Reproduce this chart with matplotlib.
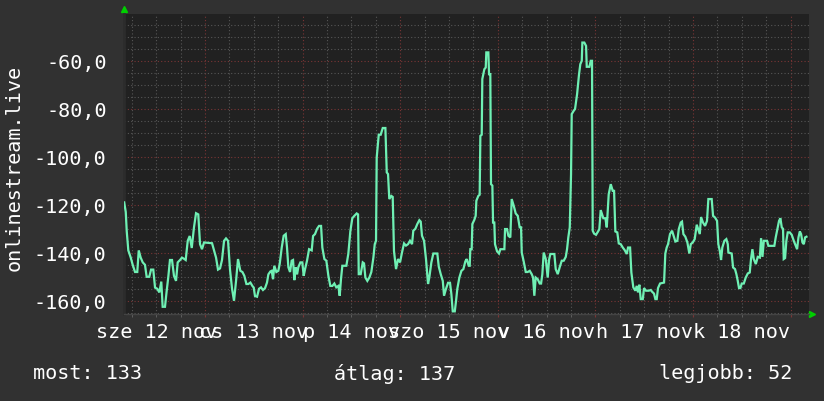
import matplotlib
matplotlib.use("Agg")
import matplotlib.pyplot as plt
import matplotlib.ticker as ticker
import matplotlib.transforms as mtransforms

# time in days from 12 nov 00:00, value as drawn (negated rank)
days = [
    0.172, 0.188, 0.198, 0.214, 0.239, 0.259, 0.283, 0.306, 0.321, 0.341, 0.362, 0.385,
    0.402, 0.429, 0.447, 0.470, 0.488, 0.511, 0.532, 0.552, 0.566, 0.590, 0.607, 0.624,
    0.641, 0.662, 0.682, 0.703, 0.720, 0.744, 0.764, 0.785, 0.802, 0.823, 0.843, 0.864,
    0.887, 0.908, 0.931, 0.949, 0.969, 0.990, 1.072, 1.092, 1.113, 1.133, 1.154, 1.174,
    1.195, 1.215, 1.236, 1.256, 1.277, 1.297, 1.318, 1.338,
    1.362, 1.383, 1.403, 1.424, 1.444, 1.465, 1.485, 1.499, 1.512, 1.533, 1.553, 1.574,
    1.594, 1.615, 1.635, 1.649, 1.669, 1.683, 1.697, 1.710, 1.731, 1.751, 1.765, 1.786,
    1.806, 1.827, 1.840, 1.854, 1.871, 1.888, 1.902, 1.915, 1.929, 1.943, 1.956, 1.977,
    1.997, 2.011, 2.025, 2.045, 2.066, 2.093, 2.107, 2.127, 2.148, 2.168, 2.189, 2.202,
    2.223, 2.243, 2.264, 2.284, 2.305, 2.325, 2.345, 2.366, 2.380, 2.393, 2.407, 2.448,
    2.468, 2.489, 2.509, 2.530,
    2.554, 2.568, 2.575, 2.595, 2.616, 2.629, 2.643, 2.663, 2.684, 2.704, 2.725, 2.739,
    2.752, 2.759, 2.780, 2.800, 2.821, 2.848, 2.862, 2.875, 2.888, 2.909, 2.923, 2.936,
    2.957, 2.977, 2.998, 3.018, 3.039, 3.059, 3.080, 3.100, 3.121, 3.134, 3.155, 3.175,
    3.196, 3.210, 3.223, 3.244, 3.264, 3.285, 3.298, 3.319, 3.339, 3.380, 3.395, 3.415,
    3.436, 3.449, 3.469, 3.490, 3.510, 3.524, 3.538, 3.559, 3.572, 3.585, 3.606, 3.627,
    3.647, 3.667, 3.681, 3.702,
    3.712, 3.718, 3.732, 3.739, 3.759, 3.773, 3.780, 3.800, 3.814, 3.821, 3.835, 3.841,
    3.862, 3.876, 3.882, 3.903, 3.910, 3.923, 3.930, 3.944, 3.951, 3.964, 3.971, 3.992,
    4.012, 4.026, 4.067, 4.074, 4.094, 4.108, 4.128, 4.142, 4.163, 4.183, 4.204, 4.224,
    4.238, 4.245, 4.265, 4.286, 4.306, 4.327, 4.347, 4.361, 4.374, 4.388, 4.409, 4.429,
    4.443, 4.456, 4.470, 4.491, 4.511, 4.525, 4.538, 4.579, 4.593, 4.614, 4.634, 4.655,
    4.675, 4.696, 4.709, 4.722, 4.737, 4.750, 4.757, 4.778, 4.791, 4.812, 4.832, 4.845,
    4.860, 4.866, 4.886,
    4.904, 4.911, 4.938, 4.952, 4.965, 4.972, 4.986, 5.006, 5.027, 5.040, 5.054, 5.068,
    5.081, 5.102, 5.116, 5.136, 5.157, 5.177, 5.191, 5.204, 5.224, 5.239, 5.259, 5.280,
    5.300, 5.321, 5.334, 5.355, 5.368, 5.388, 5.409, 5.423, 5.436, 5.450, 5.464, 5.485,
    5.498, 5.518, 5.546, 5.567, 5.580, 5.600, 5.614, 5.628, 5.641, 5.662, 5.703, 5.716,
    5.730, 5.744, 5.764, 5.785, 5.798, 5.819, 5.839, 5.854, 5.874, 5.887, 5.901, 5.921,
    5.942, 5.962, 5.977, 5.997, 6.017, 6.038, 6.058,
    6.069, 6.082, 6.102, 6.123, 6.143, 6.157, 6.191, 6.205, 6.225, 6.246, 6.259, 6.274,
    6.287, 6.300, 6.321, 6.341, 6.356, 6.362, 6.396, 6.410, 6.430, 6.444, 6.458, 6.471,
    6.485, 6.499, 6.520, 6.540, 6.561, 6.581, 6.594, 6.608, 6.622, 6.643, 6.663, 6.684,
    6.697, 6.711, 6.725, 6.758, 6.772, 6.833, 6.847, 6.868, 6.881, 6.895, 6.909, 6.922,
    6.929, 6.943, 6.956, 6.970, 6.991, 7.011, 7.032, 7.052, 7.066, 7.080, 7.094, 7.107,
    7.121, 7.135, 7.148, 7.162,
]
values = [
    -119, -123, -131, -139, -142, -145, -148, -148, -139, -142, -144, -145,
    -150, -150, -147, -147, -154.5, -155, -156.5, -152, -162.5, -162.5, -156, -150,
    -143, -143, -149.6, -151.7, -144, -143, -142, -142.5, -143, -135, -133, -138,
    -129.4, -123.5, -124, -136.4, -138.5, -135.7, -136, -139, -142, -147, -146.5, -143,
    -135, -134, -135, -147, -155, -160, -151.7, -142.6,
    -147.5, -148, -149.6, -153, -153, -152.4, -153.8, -154.5, -158, -158.3, -155, -154.4,
    -155.5, -154.7, -152.4, -149, -147.8, -147.5, -151, -145.4, -148, -147.5, -144.7, -137.8,
    -132.9, -132.2, -137.8, -146, -148, -143.3, -143, -151.4, -146, -149, -146, -144,
    -144, -149.6, -146.8, -143.3, -138.5, -139, -133, -132.2, -130, -128.8, -128.8, -137.8,
    -142.6, -143.3, -149.6, -153.8, -153.8, -152.8, -154.4, -153.8, -157.9, -151, -145.4, -145.4,
    -140.5, -131, -125.6, -124.6,
    -123.6, -124, -148.9, -148.9, -144, -144.4, -150.3, -151.7, -150.3, -148, -142, -136.4,
    -135, -100.3, -90.8, -90.8, -88, -88, -106.5, -107.2, -117.6, -116.3, -116.7, -139.2,
    -146.8, -142.6, -144, -139.9, -136.1, -137, -136.4, -135, -136.4, -130.8, -130, -128,
    -126.4, -127, -132.9, -135, -142.6, -153, -150.3, -144, -140.3, -140.3, -145.8, -148.9,
    -151.7, -157.9, -155, -152.5, -152.5, -157.2, -164.4, -164.4, -160, -155, -150.3, -147.5,
    -146.8, -143.6, -142.6, -145.4,
    -145.4, -138.5, -138.5, -128, -126.3, -124.6, -118.3, -116.3, -115.8, -91.3, -90.8, -67.6,
    -63.5, -62.8, -56.5, -56.5, -65.6, -65.6, -111.4, -112, -127.4, -127.4, -136.4, -139.4,
    -140.3, -138.5, -138.5, -130.1, -130.1, -132.9, -133.6, -117.6, -120.4, -123.6, -124.6, -129.4,
    -129.4, -139.9, -143.6, -148, -148, -147.5, -148.9, -150.3, -157.9, -150.3, -151, -152.8,
    -152.8, -148.9, -139.9, -142.6, -150.3, -142.9, -140.5, -140.5, -146.8, -148.9, -146, -143.3,
    -143.3, -141.7, -138.5, -133.6, -129.4, -107.2, -82.2, -80.8, -80.1, -73.9, -65.6, -61.4,
    -60, -52.4, -52.4,
    -53.8, -62.5, -62.5, -60, -60, -130.8, -132, -132.5, -131.1, -130.1, -122.2, -123.9,
    -125.6, -125.6, -129.4, -115.6, -111.4, -114.2, -114.2, -131.1, -131.5, -136.1, -136.4, -137.8,
    -138.9, -140.5, -137.8, -137.8, -148.2, -154.4, -155.8, -153.8, -156.5, -153.3, -159.3, -159.3,
    -154.7, -155.8, -155.8, -155.5, -156.2, -157, -159.3, -159.3, -154.7, -152.8, -152.4, -140.3,
    -137.8, -136.4, -132.2, -130.8, -132.5, -135.3, -135, -130.1, -127.4, -127, -132.2, -133.3,
    -135.7, -140.3, -136.4, -135.7, -134.3, -128.3, -130.8,
    -132.2, -125.1, -127.4, -128.8, -126.7, -117.6, -117.6, -124.6, -125.3, -126.7, -136.4, -139.2,
    -143, -137.8, -135, -134.3, -136.4, -139.9, -140.3, -146.1, -146.8, -148.9, -151.7, -154.7,
    -154.7, -152.8, -152.8, -150.3, -148.6, -148.2, -142.6, -138.5, -142.6, -144.7, -141.7, -142,
    -133.9, -141.7, -135, -135, -137.1, -137.1, -133.6, -129.4, -126.7, -125.6, -129.4, -130,
    -142.6, -142.2, -135, -131.5, -131.5, -132.5, -135, -137.1, -138.5, -133.6, -131.1, -132.2,
    -135.7, -136.4, -133.6, -133.3,
]

day_labels = ["sze 12 nov", "cs 13 nov", "p 14 nov", "szo 15 nov",
              "v 16 nov", "h 17 nov", "k 18 nov"]
series_name = "onlinestream.live"
legend_items = ["most: 133", "átlag: 137", "legjobb: 52"]

BG = "#313131"
PLOT_BG = "#212121"
LINE = "#6ff0b4"
MINOR = "#565656"
MAJOR = "#7a3535"
FONT = "DejaVu Sans Mono"
FS = 14.5

W, H = 824, 402
fig = plt.figure(figsize=(W / 100, H / 100), dpi=100, facecolor=BG)
x0, x1, y0, y1 = 124, 809, 15, 315
ax = fig.add_axes([x0 / W, 1 - y1 / H, (x1 - x0) / W, (y1 - y0) / H])
ax.set_facecolor(PLOT_BG)

ax.plot(days, values, color=LINE, linewidth=1.6, solid_joinstyle="miter", zorder=3)

ax.set_xlim(0.170, 7.188)
ax.set_ylim(-165.5, -40.5)

ax.xaxis.set_major_locator(ticker.MultipleLocator(1))
ax.xaxis.set_minor_locator(ticker.MultipleLocator(0.25))
ax.yaxis.set_major_locator(ticker.MultipleLocator(20))
ax.yaxis.set_minor_locator(ticker.MultipleLocator(5))
ax.grid(which="minor", color=MINOR, linestyle=(0, (1, 2)), linewidth=0.8)
ax.grid(which="major", color=MAJOR, linestyle=(0, (1, 2)), linewidth=0.8)
ax.set_axisbelow(True)

ax.yaxis.set_major_formatter(
    ticker.FuncFormatter(lambda v, p: f"{v:.1f}".replace(".", ",")))
ax.tick_params(axis="y", which="both", length=0, pad=12.5,
               labelsize=FS, labelcolor="white")
for t in ax.get_yticklabels():
    t.set_fontfamily(FONT)
ax.tick_params(axis="x", which="both", labelbottom=False, direction="out", length=2.5)
ax.tick_params(axis="x", which="major", color=MAJOR)
ax.tick_params(axis="x", which="minor", color="#666666")

for side in ("top", "right"):
    ax.spines[side].set_visible(False)
ax.spines["left"].set_color("#2c2c2c")
ax.spines["left"].set_linewidth(2)
ax.spines["bottom"].set_color("#444444")
ax.spines["bottom"].set_linewidth(1)

# day labels centred at noon (they overlap in the original too)
trans = mtransforms.blended_transform_factory(ax.transData, ax.transAxes)
for i, lab in enumerate(day_labels):
    ax.text(i + 0.5, -17 / 300, lab, transform=trans, ha="center", va="center",
            color="white", fontsize=FS, family=FONT, clip_on=False)

# axis arrows
ax.plot([0], [1 + 5 / 300], marker="^", color="#00d000", markersize=4.5,
        transform=ax.transAxes, clip_on=False)
ax.plot([1 + 3 / 685], [0], marker=">", color="#00d000", markersize=4.5,
        transform=ax.transAxes, clip_on=False)

fig.text(14 / W, 1 - 168 / H, series_name, rotation=90, ha="center", va="center",
         color="white", fontsize=FS, family=FONT)

fig.text(33 / W, 1 - 374 / H, legend_items[0], ha="left", va="center",
         color="white", fontsize=FS, family=FONT)
fig.text(334 / W, 1 - 374 / H, legend_items[1], ha="left", va="center",
         color="white", fontsize=FS, family=FONT)
fig.text(792 / W, 1 - 374 / H, legend_items[2], ha="right", va="center",
         color="white", fontsize=FS, family=FONT)

fig.savefig("out.png", dpi=100, facecolor=BG)
